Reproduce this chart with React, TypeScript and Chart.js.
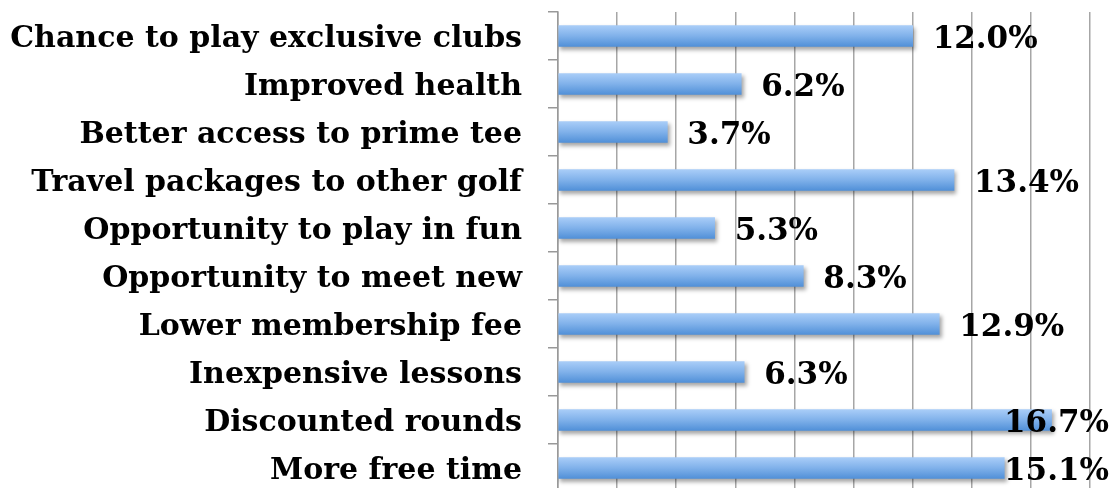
import React, { useEffect, useRef } from "react";
import { Chart, registerables } from "chart.js";

Chart.register(...registerables);

const categories: string[] = [
  "Chance to play exclusive clubs",
  "Improved health",
  "Better access to prime tee",
  "Travel packages to other golf",
  "Opportunity to play in fun",
  "Opportunity to meet new",
  "Lower membership fee",
  "Inexpensive lessons",
  "Discounted rounds",
  "More free time",
];

const values: number[] = [12.0, 6.2, 3.7, 13.4, 5.3, 8.3, 12.9, 6.3, 16.7, 15.1];

const axisMin = 0;
const axisMax = 18;
const axisStep = 2;

const VALUE_FONT = "bold 31px 'DejaVu Serif'";
const BAR_THICKNESS = 21;

const shadowPlugin = {
  id: "barShadow",
  beforeDatasetDraw(chart: any) {
    const ctx = chart.ctx;
    ctx.save();
    ctx.shadowColor = "rgba(0,0,0,0.35)";
    ctx.shadowBlur = 4;
    ctx.shadowOffsetX = 2;
    ctx.shadowOffsetY = 3;
  },
  afterDatasetDraw(chart: any) {
    chart.ctx.restore();
  },
};

const valueLabelPlugin = {
  id: "valueLabels",
  afterDatasetsDraw(chart: any) {
    const ctx = chart.ctx;
    const meta = chart.getDatasetMeta(0);
    ctx.save();
    ctx.font = VALUE_FONT;
    ctx.fillStyle = "#000";
    ctx.textBaseline = "middle";
    ctx.textAlign = "left";
    meta.data.forEach((bar: any, i: number) => {
      const text = values[i].toFixed(1) + "%";
      const w = ctx.measureText(text).width;
      let x = bar.x + 20;
      const limit = chart.width - 6;
      if (x + w > limit) x = limit - w;
      ctx.fillText(text, x, bar.y + 4);
    });
    ctx.restore();
  },
};

export default function App() {
  const canvasRef = useRef<HTMLCanvasElement | null>(null);

  useEffect(() => {
    if (!canvasRef.current) return;
    const chart = new Chart(canvasRef.current, {
      type: "bar",
      data: {
        labels: categories,
        datasets: [
          {
            data: values,
            barThickness: BAR_THICKNESS,
            borderWidth: 0,
            backgroundColor: (c: any) => {
              const ch = c.chart;
              const y = ch.scales?.y;
              if (!y || c.dataIndex === undefined) return "#86b5ec";
              const center = y.getPixelForValue(c.dataIndex);
              if (!Number.isFinite(center)) return "#86b5ec";
              const g = ch.ctx.createLinearGradient(
                0,
                center - BAR_THICKNESS / 2,
                0,
                center + BAR_THICKNESS / 2
              );
              g.addColorStop(0, "#a9cdf8");
              g.addColorStop(0.5, "#80b1ea");
              g.addColorStop(1, "#5190d8");
              return g;
            },
          },
        ],
      },
      options: {
        indexAxis: "y",
        animation: false,
        responsive: false,
        maintainAspectRatio: false,
        layout: { padding: { top: 12, right: 25, bottom: 8, left: 0 } },
        plugins: {
          legend: { display: false },
          tooltip: { enabled: false },
        },
        scales: {
          x: {
            min: axisMin,
            max: axisMax,
            ticks: { display: false, stepSize: axisStep },
            grid: { color: "#a6a6a6", lineWidth: 1.5, drawTicks: false },
            border: { display: false },
            afterFit: (s: any) => {
              s.height = 0;
              s.paddingLeft = 0;
              s.paddingRight = 0;
            },
          },
          y: {
            ticks: {
              autoSkip: false,
              color: "#000",
              font: { family: "'DejaVu Serif'", size: 30, weight: "bold" },
              padding: 26,
              labelOffset: 3,
            },
            grid: {
              drawOnChartArea: false,
              drawTicks: true,
              tickLength: 10,
              color: "#999",
              lineWidth: 1.5,
            },
            border: { display: true, color: "#999", width: 1.5 },
            afterFit: (s: any) => {
              s.width = 558;
              s.paddingTop = 0;
              s.paddingBottom = 0;
            },
          },
        },
      },
      plugins: [shadowPlugin, valueLabelPlugin],
    } as any);
    return () => chart.destroy();
  }, []);

  return (
    <div
      style={{
        position: "fixed",
        left: 0,
        top: 0,
        width: 1115,
        height: 488,
        overflow: "hidden",
        background: "#fff",
      }}
    >
      <canvas ref={canvasRef} width={1115} height={500} style={{ display: "block" }} />
    </div>
  );
}
